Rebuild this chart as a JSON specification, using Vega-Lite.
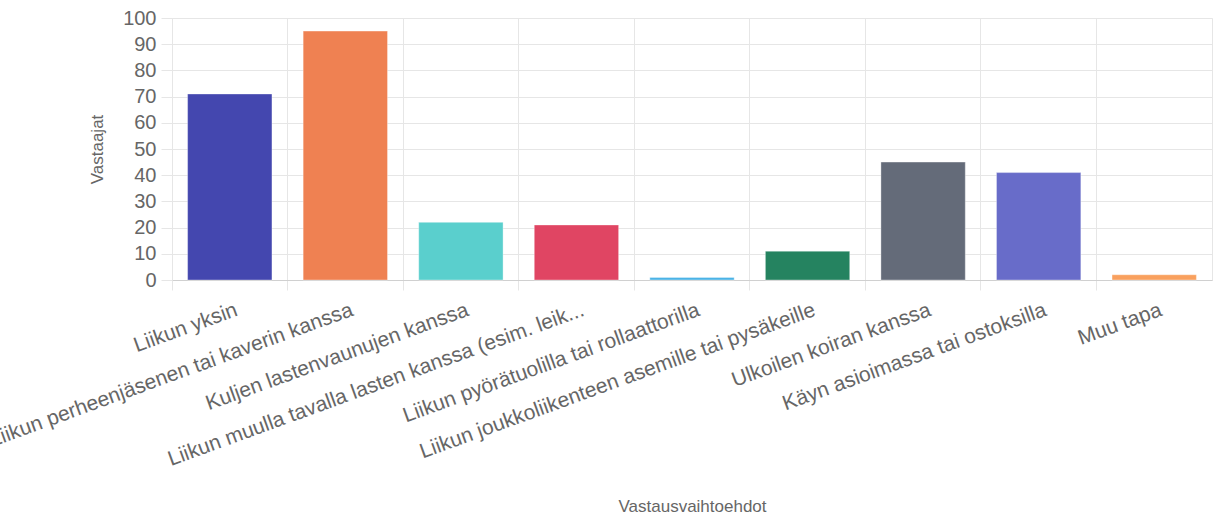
{
  "$schema": "https://vega.github.io/schema/vega-lite/v6.json",
  "width": 1040,
  "height": 262,
  "autosize": {"type": "none"},
  "padding": {"left": 172, "top": 18, "right": 13, "bottom": 237},
  "background": "white",
  "config": {
    "font": "Liberation Sans",
    "view": {"stroke": "#e6e6e6", "strokeWidth": 1}
  },
  "data": {
    "values": [
      {"vaihtoehto": "Liikun yksin", "vastaajat": 71},
      {"vaihtoehto": "Liikun perheenjäsenen tai kaverin kanssa", "vastaajat": 95},
      {"vaihtoehto": "Kuljen lastenvaunujen kanssa", "vastaajat": 22},
      {"vaihtoehto": "Liikun muulla tavalla lasten kanssa (esim. leik...", "vastaajat": 21},
      {"vaihtoehto": "Liikun pyörätuolilla tai rollaattorilla", "vastaajat": 1},
      {"vaihtoehto": "Liikun joukkoliikenteen asemille tai pysäkeille", "vastaajat": 11},
      {"vaihtoehto": "Ulkoilen koiran kanssa", "vastaajat": 45},
      {"vaihtoehto": "Käyn asioimassa tai ostoksilla", "vastaajat": 41},
      {"vaihtoehto": "Muu tapa", "vastaajat": 2}
    ]
  },
  "mark": {"type": "bar", "width": {"band": 0.73}, "strokeWidth": 1, "strokeOpacity": 0.35, "stroke": "white"},
  "encoding": {
    "x": {
      "field": "vaihtoehto",
      "type": "nominal",
      "sort": null,
      "scale": {"paddingInner": 0, "paddingOuter": 0},
      "axis": {
        "title": "Vastausvaihtoehdot",
        "titleFontSize": 17,
        "titleFontWeight": "normal",
        "titleColor": "#666666",
        "titlePadding": 29,
        "labelAngle": -20,
        "labelAlign": "right",
        "labelBaseline": "middle",
        "labelFontSize": 21,
        "labelColor": "#666666",
        "labelPadding": 19,
        "labelOffset": 7,
        "labelLimit": 0,
        "labelOverlap": false,
        "labelBound": false,
        "bandPosition": 0,
        "grid": true,
        "gridColor": "#e6e6e6",
        "tickColor": "#e6e6e6",
        "tickSize": 10,
        "domainColor": "#d0d0d0"
      }
    },
    "y": {
      "field": "vastaajat",
      "type": "quantitative",
      "scale": {"domain": [0, 100], "nice": false},
      "axis": {
        "title": "Vastaajat",
        "titleFontSize": 17,
        "titleFontWeight": "normal",
        "titleColor": "#666666",
        "titlePadding": 16,
        "values": [0, 10, 20, 30, 40, 50, 60, 70, 80, 90, 100],
        "labelFontSize": 20,
        "labelColor": "#666666",
        "labelPadding": 5,
        "grid": true,
        "gridColor": "#e6e6e6",
        "tickColor": "#e6e6e6",
        "tickSize": 11,
        "domain": false
      }
    },
    "color": {
      "field": "vaihtoehto",
      "type": "nominal",
      "sort": null,
      "legend": null,
      "scale": {
        "domain": [
          "Liikun yksin",
          "Liikun perheenjäsenen tai kaverin kanssa",
          "Kuljen lastenvaunujen kanssa",
          "Liikun muulla tavalla lasten kanssa (esim. leik...",
          "Liikun pyörätuolilla tai rollaattorilla",
          "Liikun joukkoliikenteen asemille tai pysäkeille",
          "Ulkoilen koiran kanssa",
          "Käyn asioimassa tai ostoksilla",
          "Muu tapa"
        ],
        "range": ["#4447af", "#ef8152", "#5acfcd", "#e04563", "#4bb3e6", "#258360", "#646b79", "#686cc9", "#f9a05e"]
      }
    }
  }
}
